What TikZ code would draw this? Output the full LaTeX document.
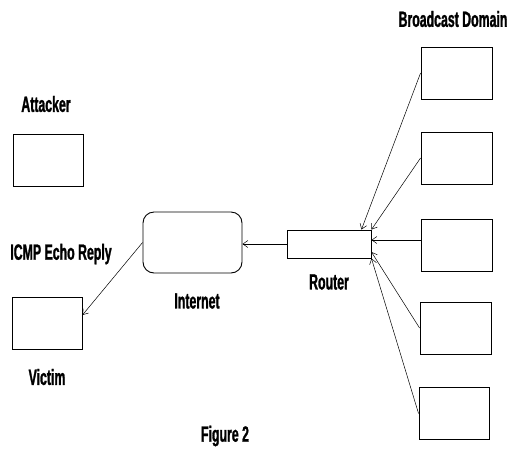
\documentclass[tikz,border=0pt]{standalone}
\usepackage{fontspec}
\setmainfont{Liberation Sans}[FakeStretch=0.56,FakeBold=1.2]
\usepackage{tikz}
\usetikzlibrary{arrows.meta,positioning}

\begin{document}
\begin{tikzpicture}[x=1pt,y=-1pt,
    box/.style={draw,line width=0.9pt,minimum width=70pt,minimum height=52pt,inner sep=0pt},
    cloud/.style={draw,line width=0.9pt,rounded corners=11pt,minimum width=99pt,minimum height=61pt,inner sep=0pt},
    lbl/.style={font=\fontsize{22}{24}\selectfont\bfseries,inner sep=0pt},
    link/.style={line width=0.5pt,-{Straight Barb[length=5pt,width=7pt]}}]
      \useasboundingbox (0,0) rectangle (510,453);
      % hosts on the left
      \node[box] (attacker) at (48,160) {};
      \node[box] (victim) at (47,323) {};
      \node[lbl] (attackerlab) at (46,104) {Attacker};
      \node[lbl] (icmplab) at (61,254) {ICMP Echo Reply};
      \node[lbl] (victimlab) at (47,377) {Victim};
      % internet and router
      \node[cloud] (internet) at (192.5,242.5) {};
      \node[box,minimum width=84pt,minimum height=28pt] (router) at (329,244) {};
      \node[lbl] (internetlab) at (197,301) {Internet};
      \node[lbl] (routerlab) at (329,282) {Router};
      % broadcast domain
      \node[lbl] (bcastlab) at (453,19) {Broadcast Domain};
      \node[box,minimum width=71pt] (b1) at (456.5,73) {};
      \node[box,minimum width=71pt] (b2) at (456.5,158) {};
      \node[box,minimum width=71pt] (b3) at (456.5,245) {};
      \node[box,minimum width=71pt] (b4) at (455.5,328) {};
      \node[box] (b5) at (454,413.5) {};
      \node[lbl] (figlab) at (225,436) {Figure 2};
      % replies
      \draw[link] (b1.west) -- ([xshift=-10pt]router.north east);
      \draw[link] (b2.west) -- (router.north east);
      \draw[link] ([yshift=5pt]b3.west) -- ([yshift=4pt]router.east);
      \draw[link] (b4.west) -- ([yshift=-8pt]router.east);
      \draw[link] (b5.west) -- (router.south east);
      \draw[link] (router.west) -- (router.west -| internet.east);
      \draw[link] (internet.west) -- ([yshift=8pt]victim.east);
\end{tikzpicture}
\end{document}
